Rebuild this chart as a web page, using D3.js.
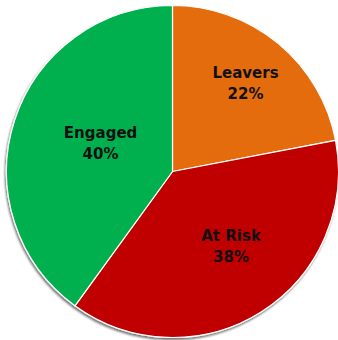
<!DOCTYPE html>
<html>
<head>
<meta charset="utf-8">
<script src="https://cdn.jsdelivr.net/npm/d3@7/dist/d3.min.js"></script>
<style>
  html, body { margin: 0; padding: 0; background: #fff; }
  svg { display: block; }
</style>
</head>
<body>
<svg id="chart" width="338" height="340"></svg>
<script>
// Workforce engagement split
const categories = ["Leavers", "At Risk", "Engaged"];
const values = [22, 38, 40];
const colors = ["#E46C0A", "#C00000", "#00B050"];

const W = 338, H = 340;
const cx = 172.5, cy = 171.5, R = 166;
// label placement per slice: [distance as fraction of radius, angle nudge in degrees]
const labelPlacement = {
  "Leavers": [0.69, 0],
  "At Risk": [0.573, -5.6],
  "Engaged": [0.466, 3.6]
};

const svg = d3.select("#chart");

const defs = svg.append("defs");
const f = defs.append("filter").attr("id", "shadow")
  .attr("x", "-10%").attr("y", "-10%").attr("width", "120%").attr("height", "120%");
f.append("feGaussianBlur").attr("in", "SourceAlpha").attr("stdDeviation", 1.3).attr("result", "b");
f.append("feOffset").attr("in", "b").attr("dx", -1).attr("dy", 1.5).attr("result", "o");
f.append("feComponentTransfer").attr("in", "o").attr("result", "s")
  .append("feFuncA").attr("type", "linear").attr("slope", 0.55);
const m = f.append("feMerge");
m.append("feMergeNode").attr("in", "s");
m.append("feMergeNode").attr("in", "SourceGraphic");

const data = categories.map((c, i) => ({ name: c, value: values[i], color: colors[i] }));

const pie = d3.pie().value(d => d.value).sort(null);
const arcs = pie(data);
const arc = d3.arc().innerRadius(0).outerRadius(R);

const g = svg.append("g").attr("transform", `translate(${cx},${cy})`);

g.append("g").attr("filter", "url(#shadow)")
  .selectAll("path").data(arcs).join("path")
  .attr("d", arc)
  .attr("fill", d => d.data.color)
  .attr("stroke", "#ffffff")
  .attr("stroke-width", 1.2)
  .attr("stroke-linejoin", "round");

const labels = g.selectAll("text.lbl").data(arcs).join("text")
  .attr("class", "lbl")
  .attr("transform", d => {
    const [frac, nudge] = labelPlacement[d.data.name];
    const r = R * frac;
    const a = (d.startAngle + d.endAngle) / 2 + nudge * Math.PI / 180;
    return `translate(${r * Math.sin(a)},${-r * Math.cos(a)})`;
  })
  .attr("text-anchor", "middle")
  .attr("font-family", "'DejaVu Sans', Verdana, sans-serif")
  .attr("font-weight", "bold")
  .attr("font-size", "15px")
  .attr("fill", "#111111");

labels.append("tspan").attr("x", 0).attr("y", -5).text(d => d.data.name);
labels.append("tspan").attr("x", 0).attr("y", 16).text(d => d.data.value + "%");
</script>
</body>
</html>
